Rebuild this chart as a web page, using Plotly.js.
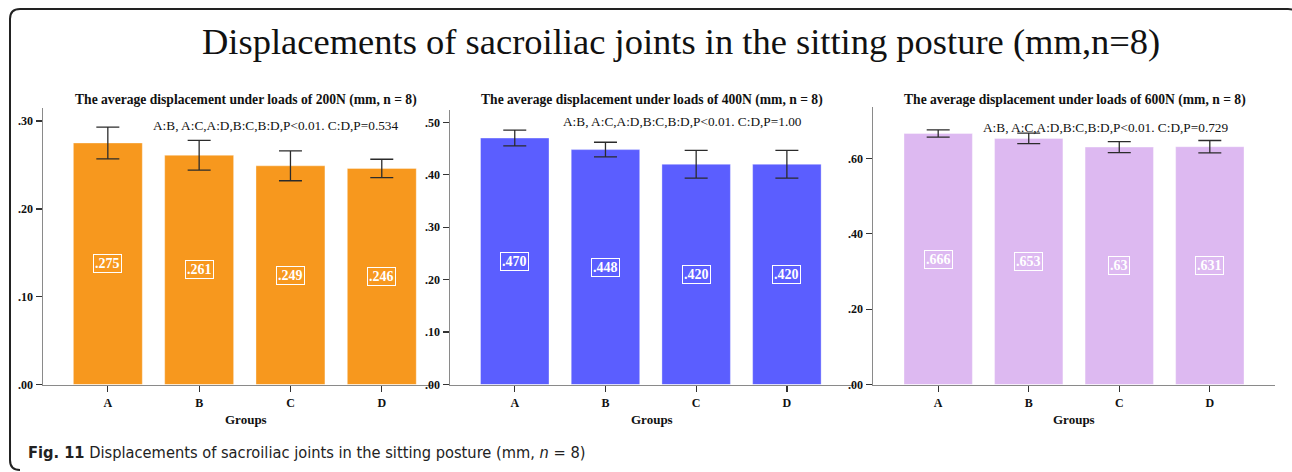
<!DOCTYPE html>
<html>
<head>
<meta charset="utf-8">
<script src="https://cdn.plot.ly/plotly-3.0.1.min.js"></script>
<style>html,body{margin:0;padding:0;background:#fff;}#chart{width:1292px;height:472px;}</style>
</head>
<body>
<div id="chart"></div>
<script>
// ---- data ----
const groups = ['A', 'B', 'C', 'D'];
const means200 = [0.275, 0.261, 0.249, 0.246];
const err200 = [0.018, 0.017, 0.017, 0.0105];
const labels200 = ['.275', '.261', '.249', '.246'];
const means400 = [0.470, 0.448, 0.420, 0.420];
const err400 = [0.015, 0.014, 0.0265, 0.0265];
const labels400 = ['.470', '.448', '.420', '.420'];
const means600 = [0.666, 0.653, 0.630, 0.631];
const err600 = [0.0097, 0.014, 0.0146, 0.0165];
const labels600 = ['.666', '.653', '.63', '.631'];
const ticks200 = [0, 0.10, 0.20, 0.30];
const tickText200 = ['.00', '.10', '.20', '.30'];
const ticks400 = [0, 0.10, 0.20, 0.30, 0.40, 0.50];
const tickText400 = ['.00', '.10', '.20', '.30', '.40', '.50'];
const ticks600 = [0, 0.20, 0.40, 0.60];
const tickText600 = ['.00', '.20', '.40', '.60'];
const subTitles = [
  'The average displacement under loads of 200N (mm, n = 8)',
  'The average displacement under loads of 400N (mm, n = 8)',
  'The average displacement under loads of 600N (mm, n = 8)'
];
const pNotes = [
  'A:B, A:C,A:D,B:C,B:D,P<0.01. C:D,P=0.534',
  'A:B, A:C,A:D,B:C,B:D,P<0.01. C:D,P=1.00',
  'A:B, A:C,A:D,B:C,B:D,P<0.01. C:D,P=0.729'
];
const mainTitle = 'Displacements of sacroiliac joints in the sitting posture (mm,n=8)';
const caption = '<b>Fig. 11</b> Displacements of sacroiliac joints in the sitting posture (mm, <i>n</i> = 8)';

// ---- layout helpers ----
const W = 1292, H = 472;
const px = x => x / W;
const py = y => 1 - y / H;
const SERIF = 'Liberation Serif, Times New Roman, serif';

const panels = [
  {means: means200, err: err200, labels: labels200, color: '#F7981E', ticks: ticks200, tt: tickText200,
   xd: [43, 432], yTop: 108, yMax: 0.3148, xr: [-0.71, 3.55], titleX: 246, noteX: 276, noteY: 125, groupsX: 246},
  {means: means400, err: err400, labels: labels400, color: '#5B5EFF', ticks: ticks400, tt: tickText400,
   xd: [450, 854], yTop: 110, yMax: 0.5235, xr: [-0.714, 3.74], titleX: 652, noteX: 682, noteY: 122, groupsX: 652},
  {means: means600, err: err600, labels: labels600, color: '#DDB9F1', ticks: ticks600, tt: tickText600,
   xd: [873, 1275], yTop: 107, yMax: 0.7364, xr: [-0.72, 3.72], titleX: 1075, noteX: 1106, noteY: 127, groupsX: 1074}
];
const yZero = 384.6;

const data = [];
const layout = {
  width: W, height: H,
  margin: {l: 0, r: 0, t: 0, b: 0},
  paper_bgcolor: '#ffffff', plot_bgcolor: 'rgba(0,0,0,0)',
  showlegend: false,
  annotations: [],
  shapes: []
};

panels.forEach((p, i) => {
  const n = i === 0 ? '' : String(i + 1);
  const xa = 'x' + n, ya = 'y' + n;
  data.push({
    type: 'bar', x: groups, y: p.means, xaxis: xa, yaxis: ya,
    marker: {color: p.color, line: {color: 'rgba(255,255,255,0.35)', width: 1}},
    width: 0.755,
    error_y: {type: 'data', array: p.err, visible: true, color: '#2b2b2b', thickness: 1.3, width: 11.5},
    hoverinfo: 'skip'
  });
  layout['xaxis' + n] = {
    domain: [px(p.xd[0]), px(p.xd[1])], anchor: ya, range: p.xr,
    showline: true, linecolor: '#8a8a8a', linewidth: 1.5, showgrid: false, zeroline: false,
    ticks: 'outside', ticklen: 6, tickwidth: 1.3, tickcolor: '#333',
    tickfont: {family: SERIF, size: 12, color: '#111', weight: 'bold'},
    fixedrange: true
  };
  layout['yaxis' + n] = {
    domain: [py(yZero), py(p.yTop)], anchor: xa, range: [0, p.yMax],
    showline: true, linecolor: '#8a8a8a', linewidth: 1.5, showgrid: false, zeroline: false,
    tickvals: p.ticks, ticktext: p.tt,
    ticks: 'outside', ticklen: 6, tickwidth: 1.3, tickcolor: '#333',
    ticklabelstandoff: 0,
    tickfont: {family: SERIF, size: 12, color: '#111', weight: 'bold'},
    fixedrange: true
  };
  // value labels at half height of each bar
  groups.forEach((g, j) => {
    layout.annotations.push({
      xref: xa, yref: ya, x: g, y: p.means[j] / 2, text: p.labels[j], showarrow: false,
      font: {family: SERIF, size: 14, color: '#ffffff', weight: 'bold'},
      bordercolor: '#ffffff', borderwidth: 1, borderpad: 1
    });
  });
  layout.annotations.push({
    xref: 'paper', yref: 'paper', x: px(p.titleX), y: py(100), text: '<b>' + subTitles[i] + '</b>',
    showarrow: false, xanchor: 'center', yanchor: 'middle',
    font: {family: SERIF, size: 13.6, color: '#111'}
  });
  layout.annotations.push({
    xref: 'paper', yref: 'paper', x: px(p.noteX), y: py(p.noteY), text: pNotes[i],
    showarrow: false, xanchor: 'center', yanchor: 'middle',
    font: {family: SERIF, size: 13.3, color: '#111'}
  });
  layout.annotations.push({
    xref: 'paper', yref: 'paper', x: px(p.groupsX), y: py(419), text: '<b>Groups</b>',
    showarrow: false, xanchor: 'center', yanchor: 'middle',
    font: {family: SERIF, size: 13, color: '#111'}
  });
});

layout.annotations.push({
  xref: 'paper', yref: 'paper', x: px(681), y: py(42), text: mainTitle,
  showarrow: false, xanchor: 'center', yanchor: 'middle',
  font: {family: SERIF, size: 36.5, color: '#111'}
});
layout.annotations.push({
  xref: 'paper', yref: 'paper', x: px(26), y: py(452), text: caption,
  showarrow: false, xanchor: 'left', yanchor: 'middle',
  font: {family: 'DejaVu Sans Condensed, Liberation Sans Narrow, Open Sans, sans-serif', size: 16.3, color: '#222'}
});

// rounded frame (left, top, corners; right side runs off the image)
const L = 10, T = 9, R = 1298, B = 470, r = 10;
layout.shapes.push({
  type: 'path', xref: 'paper', yref: 'paper',
  path: 'M ' + px(R) + ' ' + py(B) + ' L ' + px(R) + ' ' + py(T + r) +
        ' Q ' + px(R) + ' ' + py(T) + ' ' + px(R - r) + ' ' + py(T) +
        ' L ' + px(L + r) + ' ' + py(T) +
        ' Q ' + px(L) + ' ' + py(T) + ' ' + px(L) + ' ' + py(T + r) +
        ' L ' + px(L) + ' ' + py(B - r) +
        ' Q ' + px(L) + ' ' + py(B) + ' ' + px(L + r) + ' ' + py(B),
  line: {color: '#222', width: 2}
});

Plotly.newPlot('chart', data, layout, {staticPlot: true, displayModeBar: false});
</script>
</body>
</html>
